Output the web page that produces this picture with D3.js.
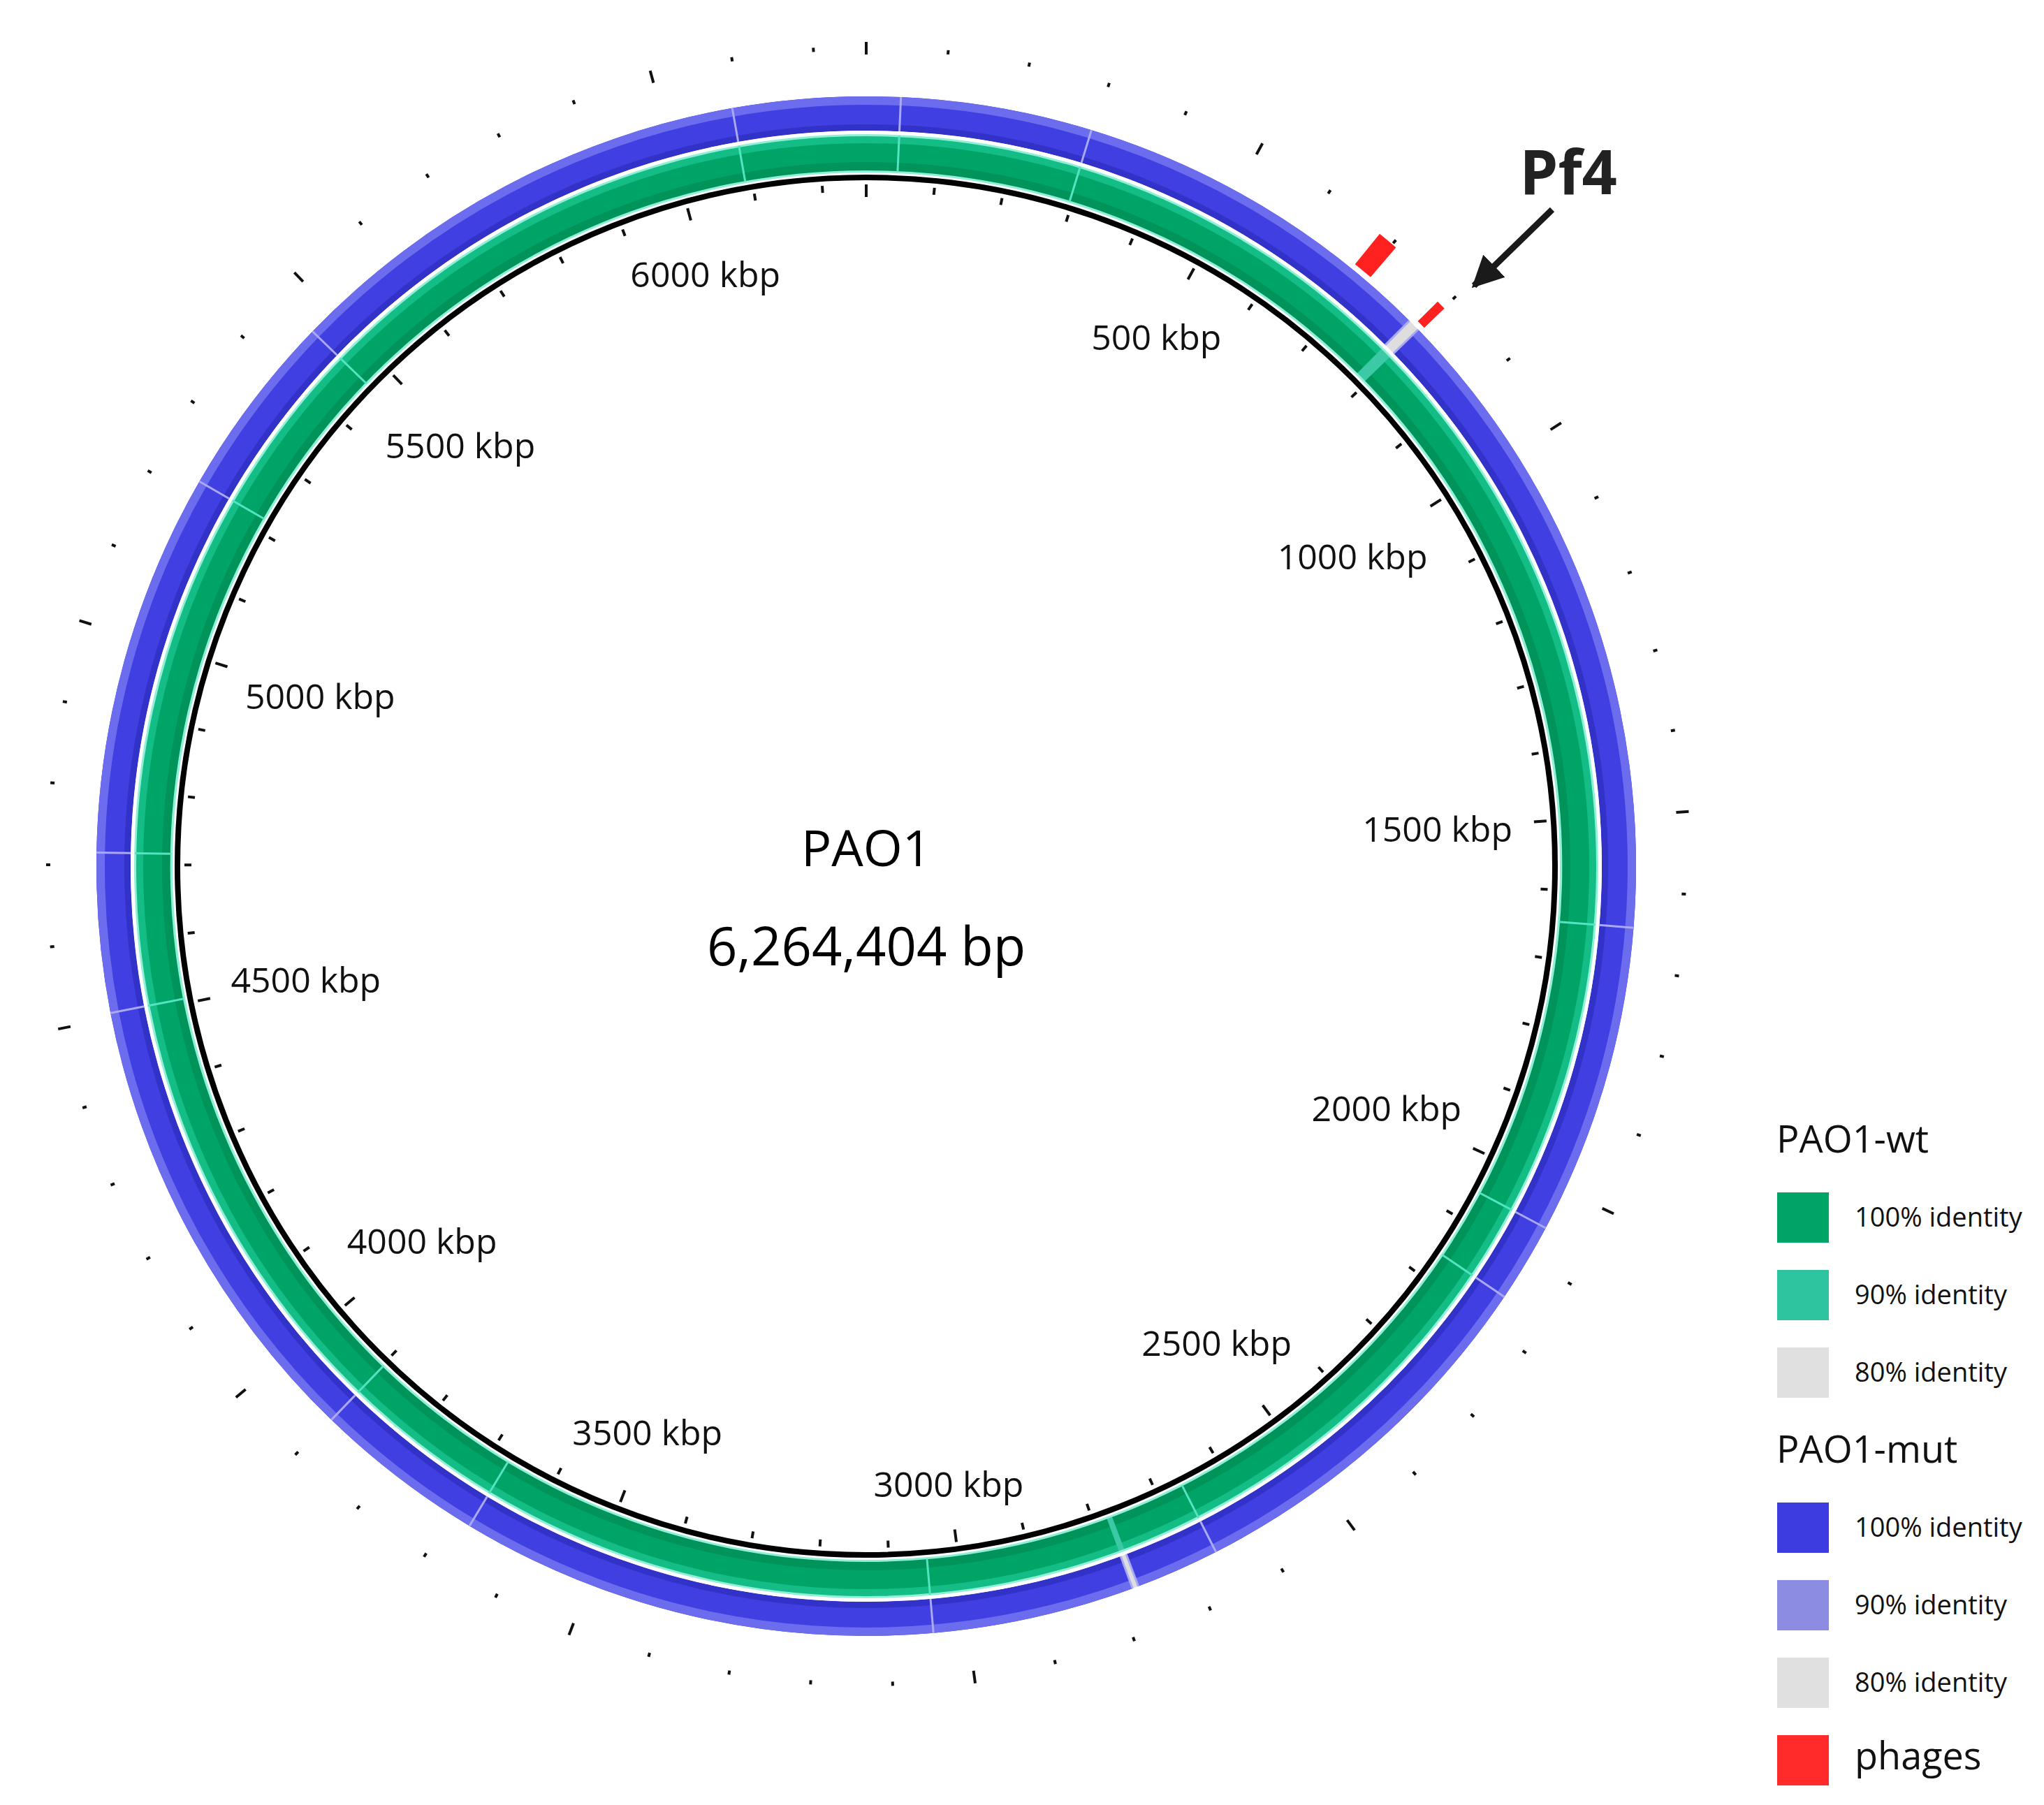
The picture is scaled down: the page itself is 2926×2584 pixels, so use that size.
<!DOCTYPE html>
<html>
<head>
<meta charset="utf-8">
<script src="https://cdn.jsdelivr.net/npm/d3@7"></script>
<style>
  body { margin: 0; background: #fff; }
  text { font-family: "Open Sans", "DejaVu Sans", sans-serif; }
</style>
</head>
<body>
<svg id="chart" width="2926" height="2584"></svg>
<script>
// genome data
var genomeLength = 6264404;
var genomeName = "PAO1";
var majorTicks = [0, 500, 1000, 1500, 2000, 2500, 3000, 3500, 4000, 4500, 5000, 5500, 6000]; // kbp
var labelTicks = [500, 1000, 1500, 2000, 2500, 3000, 3500, 4000, 4500, 5000, 5500, 6000];
var minorTicks = d3.range(0, 6300, 100);
// block boundaries (kbp)
var wtBreaks = [0, 45, 296, 1646, 2054, 2158, 2662, 3045, 3672, 3898, 4507, 4716, 5220, 5464, 6090, 6264.404];
var mutBreaks = [0, 45, 296, 781, 797, 1646, 2054, 2158, 2662, 2772, 2780, 3045, 3672, 3898, 4507, 4716, 5220, 5464, 6090, 6264.404];
var mutLowId = [[781, 797], [2772, 2780]];   // 80% identity gaps
var wtLowId = [[781, 797], [2772, 2780]];    // 90% identity
var phageStart = [680, 789];
var phageEnd = [706, 801];

var cx = 1240, cy = 1240;
var svg = d3.select("#chart");
var g = svg.append("g").attr("transform", "translate(" + cx + "," + cy + ")");

var ang = d3.scaleLinear().domain([0, genomeLength / 1000]).range([0, 2 * Math.PI]);
var arc = d3.arc();

function ring(r0, r1, a, b, color) {
  g.append("path")
    .attr("d", arc({innerRadius: r0, outerRadius: r1, startAngle: ang(a), endAngle: ang(b)}))
    .attr("fill", color);
}
function radial(kb, r0, r1, color, w) {
  var t = ang(kb);
  g.append("line")
    .attr("x1", r0 * Math.sin(t)).attr("y1", -r0 * Math.cos(t))
    .attr("x2", r1 * Math.sin(t)).attr("y2", -r1 * Math.cos(t))
    .attr("stroke", color).attr("stroke-width", w);
}
function inRange(list, a) { return list.some(function (d) { return a >= d[0] && a < d[1]; }); }

// PAO1-mut ring (blue)
for (var i = 0; i < mutBreaks.length - 1; i++) {
  var a = mutBreaks[i], b = mutBreaks[i + 1];
  var low = inRange(mutLowId, a);
  ring(1053, 1102, a, b, low ? "#dedede" : "#3f3fe2");
  if (!low) {
    ring(1090, 1102, a, b, "#6c6cee");
    ring(1053, 1062, a, b, "#3232c8");
  }
}
// PAO1-wt ring (green)
ring(1047, 1053, 0, genomeLength / 1000, "#ffffff");
for (var i = 0; i < wtBreaks.length - 1; i++) {
  ring(995, 1047, wtBreaks[i], wtBreaks[i + 1], "#00a466");
  ring(1035, 1047, wtBreaks[i], wtBreaks[i + 1], "#14bc86");
  ring(995, 1008, wtBreaks[i], wtBreaks[i + 1], "#00935a");
}
wtLowId.forEach(function (d) { ring(995, 1047, d[0], d[1], "#3cc9a6"); });
ring(1045, 1048, 0, genomeLength / 1000, "#8ff0d8");
ring(993, 996, 0, genomeLength / 1000, "#8ff0d8");
// block separators
mutBreaks.slice(1, -1).forEach(function (d) { radial(d, 1053, 1102, "#a9a9f5", 3); });
wtBreaks.slice(1, -1).forEach(function (d) { radial(d, 995, 1047, "#55e3c0", 3); });

// backbone
g.append("circle").attr("r", 986).attr("fill", "none").attr("stroke", "#000").attr("stroke-width", 8);

// ticks
minorTicks.forEach(function (d) {
  var major = majorTicks.indexOf(d) >= 0;
  radial(d, major ? 958 : 966, 976, "#111", major ? 4 : 4);
  radial(d, major ? 1162 : 1168, major ? 1180 : 1174, "#111", 4);
});

// tick labels
labelTicks.forEach(function (d) {
  var t = ang(d), s = Math.sin(t), c = Math.cos(t);
  var txt = g.append("text").text(d + " kbp").attr("font-size", 50).attr("fill", "#111")
    .attr("text-anchor", "middle").attr("dominant-baseline", "central");
  var w = txt.node().getComputedTextLength();
  var r = 928 - (Math.abs(s) * w / 2 + Math.abs(c) * 22);
  txt.attr("x", r * s).attr("y", -r * c);
});

// phages
for (var i = 0; i < phageStart.length; i++) {
  ring(1110, i === 0 ? 1166 : 1150, phageStart[i], phageEnd[i], "#ff2020");
}

// centre labels
g.append("text").attr("x", 0).attr("y", 0).attr("text-anchor", "middle")
  .attr("font-size", 72).attr("font-family", "Liberation Sans, Arial, sans-serif").text(genomeName);
g.append("text").attr("x", 0).attr("y", 142).attr("text-anchor", "middle")
  .attr("font-size", 76).attr("font-family", "Liberation Sans, Arial, sans-serif").text("6,264,404 bp");

// Pf4 annotation
svg.append("defs").append("marker").attr("id", "arr").attr("viewBox", "0 0 10 10")
  .attr("refX", 9).attr("refY", 5).attr("markerWidth", 5).attr("markerHeight", 5).attr("orient", "auto")
  .append("path").attr("d", "M0,0L10,5L0,10z").attr("fill", "#1a1a1a");
svg.append("line").attr("x1", 2222).attr("y1", 300).attr("x2", 2110).attr("y2", 409)
  .attr("stroke", "#1a1a1a").attr("stroke-width", 9).attr("marker-end", "url(#arr)");
svg.append("text").attr("x", 2245).attr("y", 278).attr("text-anchor", "middle")
  .attr("font-size", 88).attr("font-weight", "bold").attr("fill", "#222")
  .attr("font-family", "Liberation Sans, Arial, sans-serif").text("Pf4");

// legend
var legendRows = [
  {type: "title", text: "PAO1-wt"},
  {type: "item", color: "#00a466", text: "100% identity"},
  {type: "item", color: "#2ec4a0", text: "90% identity"},
  {type: "item", color: "#e0e0e0", text: "80% identity"},
  {type: "title", text: "PAO1-mut"},
  {type: "item", color: "#3c3ce0", text: "100% identity"},
  {type: "item", color: "#8c8ce2", text: "90% identity"},
  {type: "item", color: "#e0e0e0", text: "80% identity"},
  {type: "big", color: "#ff2a2a", text: "phages"}
];
var ly = d3.scaleLinear().domain([0, 1]).range([1632, 1743]);
legendRows.forEach(function (d, i) {
  var y = ly(i);
  if (d.type === "title") {
    svg.append("text").attr("x", 2543).attr("y", y + 18).attr("font-size", 54).attr("fill", "#111").text(d.text);
  } else {
    svg.append("rect").attr("x", 2544).attr("y", y - 36).attr("width", 74).attr("height", 72).attr("fill", d.color);
    svg.append("text").attr("x", 2655).attr("y", y + 13).attr("font-size", d.type === "big" ? 54 : 38)
      .attr("fill", "#111").text(d.text);
  }
});
</script>
</body>
</html>
